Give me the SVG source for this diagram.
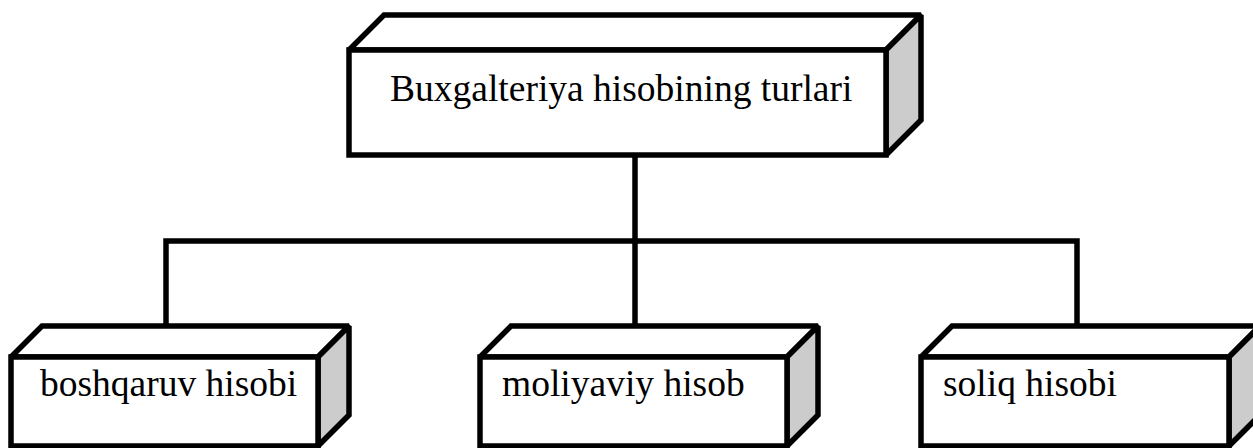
<svg xmlns="http://www.w3.org/2000/svg" width="1253" height="448" viewBox="0 0 1253 448">
<style>
.face{fill:#ffffff;stroke:#000000;stroke-width:5.5;stroke-linejoin:miter;stroke-miterlimit:2}
.side{fill:#cccccc;stroke:#000000;stroke-width:5.5;stroke-linejoin:miter;stroke-miterlimit:2}
.conn{fill:none;stroke:#000000;stroke-width:5.5;stroke-linecap:square}
.lbl{font-family:"Liberation Serif","Times New Roman",serif;font-size:37.5px;fill:#000000}
</style>
<rect width="1253" height="448" fill="#ffffff"/>
<g id="connectors">
<line class="conn" x1="635" y1="157" x2="635" y2="326"/>
<polyline class="conn" points="166,326 166,241 1077,241 1077,326"/>
</g>
<g id="node-top">
<polygon class="face" points="349,50 384,15 921,15 886,50"/>
<polygon class="side" points="886,50 921,15 921,120 886,155"/>
<rect class="face" x="349" y="50" width="537" height="105"/>
<text class="lbl" x="390" y="101">Buxgalteriya hisobining turlari</text>
</g>
<g id="node-boshqaruv">
<polygon class="face" points="11,357 42,326 349,326 318,357"/>
<polygon class="side" points="318,357 349,326 349,415 318,446"/>
<rect class="face" x="11" y="357" width="307" height="89"/>
<text class="lbl" x="40" y="396">boshqaruv hisobi</text>
</g>
<g id="node-moliyaviy">
<polygon class="face" points="480,357 511,326 818,326 787,357"/>
<polygon class="side" points="787,357 818,326 818,415 787,446"/>
<rect class="face" x="480" y="357" width="307" height="89"/>
<text class="lbl" x="502" y="396">moliyaviy hisob</text>
</g>
<g id="node-soliq">
<polygon class="face" points="921,357 952,326 1260,326 1229,357"/>
<polygon class="side" points="1229,357 1260,326 1260,415 1229,446"/>
<rect class="face" x="921" y="357" width="308" height="89"/>
<text class="lbl" x="943" y="396">soliq hisobi</text>
</g>
</svg>
